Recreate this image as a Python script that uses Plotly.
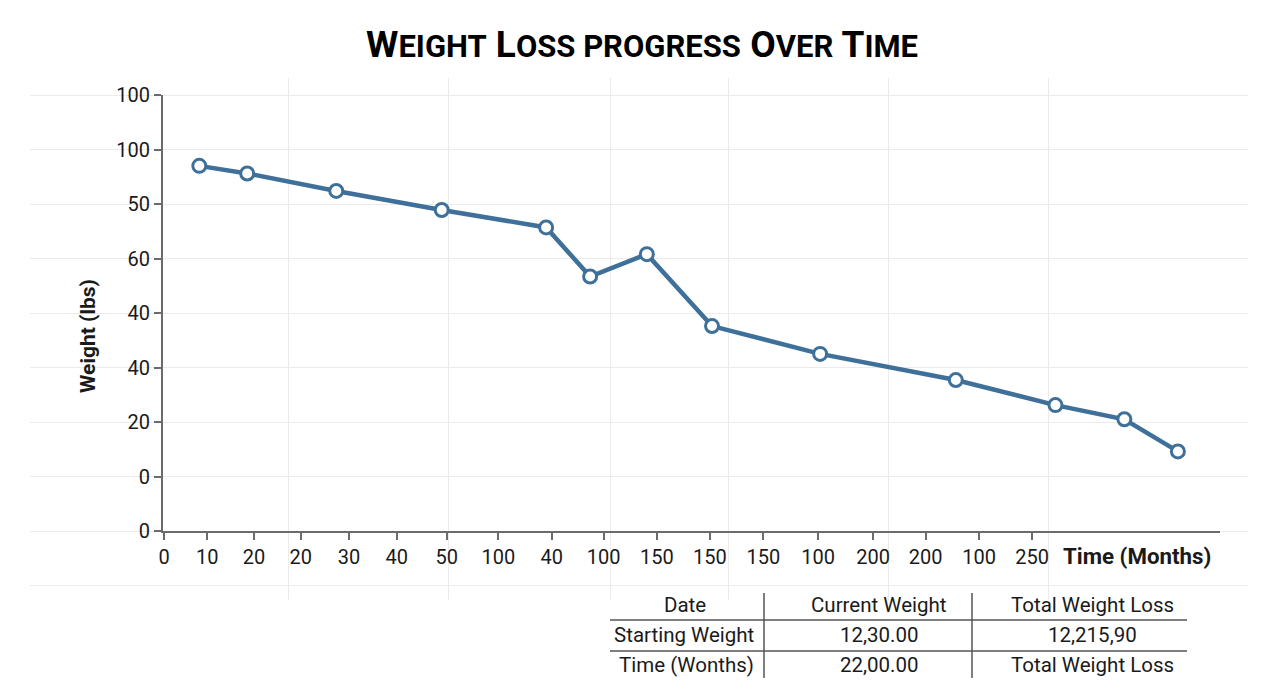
import plotly.graph_objects as go

# ---------------- data ----------------
months = [6.66, 15.7, 32.5, 52.4, 72.1, 80.4, 91.1, 103.4, 123.8, 149.4, 168.2, 181.2, 191.3]
weights = [67.0, 65.6, 62.4, 58.9, 55.7, 46.7, 50.8, 37.6, 32.5, 27.7, 23.1, 20.5, 14.6]

x_tick_pos = [0, 8.17, 16.98, 25.79, 34.91, 43.91, 53.34, 63.08, 73.17, 82.94,
              92.98, 103.0, 113.1, 123.4, 133.8, 143.7, 153.8, 163.8]
x_tick_text = ["0", "10", "20", "20", "30", "40", "50", "100", "40", "100",
               "150", "150", "150", "100", "200", "200", "100", "250"]

y_tick_pos = [0, 10, 20, 30, 40, 50, 60, 70, 80]
y_tick_text = ["0", "0", "20", "40", "40", "60", "50", "100", "100"]

x_grid_pos = [23.4, 53.77, 84.15, 106.42, 136.79, 166.98]
y_grid_pos = [-10, 0, 10, 20, 30, 40, 50, 60, 70, 80]

table_header = ["Date", "Current Weight", "Total Weight Loss"]
table_rows = [
    ["Starting Weight", "12,30.00", "12,215,90"],
    ["Time (Wonths)", "22,00.00", "Total Weight Loss"],
]

# ---------------- layout helpers ----------------
W, H = 1280, 698
OFF = 8                    # page body offset of the plot div
PX0, PXU = 164.0, 5.3      # x pixel of value 0, pixels per x unit
PY0, PYU = 531.0, 5.45     # y pixel of value 0, pixels per y unit


def fx(px):
    return (px - OFF) / W


def fy(py):
    return (H - (py - OFF)) / H


def xu(px):
    return (px - PX0) / PXU


def yu(py):
    return (PY0 - py) / PYU


LINE_C = "#3e7099"
AX_C = "#6b6b6b"
TXT_C = "#1a1a1a"
FONT = "Roboto"

fig = go.Figure()

# invisible trace to hold the wide grid subplot
fig.add_trace(go.Scatter(x=[None], y=[None], xaxis="x", yaxis="y",
                         showlegend=False, hoverinfo="skip"))

fig.add_trace(go.Scatter(
    x=months, y=weights, xaxis="x2", yaxis="y2",
    mode="lines+markers",
    line=dict(color=LINE_C, width=4.5),
    marker=dict(size=13, color="white", line=dict(color=LINE_C, width=3)),
    showlegend=False,
))

small = "font-size:31px"
title_text = (f"W<span style='{small}'>EIGHT</span> L<span style='{small}'>OSS PROGRESS</span> "
              f"O<span style='{small}'>VER</span> T<span style='{small}'>IME</span>")

annotations = [
    dict(text=title_text, x=fx(642), y=fy(44), xref="paper", yref="paper",
         xanchor="center", yanchor="middle", showarrow=False,
         font=dict(family=FONT, size=37, color="#000000", weight="bold")),
    dict(text="Weight (lbs)", x=fx(88), y=fy(336), xref="paper", yref="paper",
         textangle=-90, xanchor="center", yanchor="middle", showarrow=False,
         font=dict(family=FONT, size=21, color=TXT_C, weight="bold")),
    dict(text="Time (Months)", x=fx(1213), y=fy(556), xref="paper", yref="paper",
         xanchor="right", yanchor="middle", showarrow=False,
         font=dict(family=FONT, size=22.3, color=TXT_C, weight="bold")),
]

# table text
col_x = [684.5, 879, 1092]
row_y = [605, 635, 665]
for j, t in enumerate(table_header):
    annotations.append(dict(text=t, x=fx(col_x[j]), y=fy(row_y[0]), xref="paper", yref="paper",
                            xanchor="center", yanchor="middle", showarrow=False,
                            font=dict(family=FONT, size=20.5, color=TXT_C)))
for i, row in enumerate(table_rows):
    for j, t in enumerate(row):
        if j == 0:
            ax, xa = 756, "right"
        else:
            ax, xa = col_x[j], "center"
        annotations.append(dict(text=t, x=fx(ax), y=fy(row_y[i + 1]), xref="paper", yref="paper",
                                xanchor=xa, yanchor="middle", showarrow=False,
                                font=dict(family=FONT, size=20.5, color=TXT_C)))

shapes = []
TB_C = "#555555"
for yy in [620, 651]:
    shapes.append(dict(type="line", xref="paper", yref="paper",
                       x0=fx(610), x1=fx(1187), y0=fy(yy), y1=fy(yy),
                       line=dict(color=TB_C, width=1.5)))
for xx in [764, 972]:
    shapes.append(dict(type="line", xref="paper", yref="paper",
                       x0=fx(xx), x1=fx(xx), y0=fy(593), y1=fy(678),
                       line=dict(color=TB_C, width=1.5)))

GRID_C = "#ebebeb"
fig.update_layout(
    width=W, height=H, autosize=False,
    margin=dict(l=0, r=0, t=0, b=0, pad=0, autoexpand=False),
    paper_bgcolor="white", plot_bgcolor="rgba(0,0,0,0)",
    font=dict(family=FONT, color=TXT_C),
    xaxis=dict(domain=[fx(30), fx(1248)], range=[xu(30), xu(1248)], anchor="y",
               tickmode="array", tickvals=x_grid_pos, showticklabels=False, ticks="",
               showgrid=True, gridcolor=GRID_C, gridwidth=1.2, zeroline=False, showline=False,
               fixedrange=True, automargin=False),
    yaxis=dict(domain=[fy(600), fy(78)], range=[yu(600), yu(78)], anchor="x",
               tickmode="array", tickvals=y_grid_pos, showticklabels=False, ticks="",
               showgrid=True, gridcolor=GRID_C, gridwidth=1.2, zeroline=False, showline=False,
               fixedrange=True, automargin=False),
    xaxis2=dict(domain=[fx(163), fx(1220)], range=[xu(163), xu(1220)], anchor="y2",
                tickmode="array", tickvals=x_tick_pos, ticktext=x_tick_text,
                ticks="outside", ticklen=7, tickwidth=1.5, tickcolor=AX_C,
                showline=True, linecolor=AX_C, linewidth=2, showgrid=False, zeroline=False,
                tickfont=dict(family=FONT, size=20, color=TXT_C), fixedrange=True,
                automargin=False),
    yaxis2=dict(domain=[fy(531), fy(95)], range=[0, 80], anchor="x2",
                tickmode="array", tickvals=y_tick_pos, ticktext=y_tick_text,
                ticks="outside", ticklen=7, tickwidth=1.5, tickcolor=AX_C,
                showline=True, linecolor=AX_C, linewidth=2, showgrid=False, zeroline=False,
                tickfont=dict(family=FONT, size=20, color=TXT_C), fixedrange=True,
                automargin=False),
    annotations=annotations,
    shapes=shapes,
)

fig.write_html("out.html")
